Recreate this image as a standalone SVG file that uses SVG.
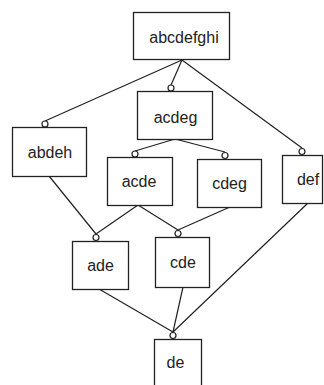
<svg xmlns="http://www.w3.org/2000/svg" width="324" height="385" viewBox="0 0 324 385">
<style>
.box{fill:#fff;stroke:#222;stroke-width:1.3}
.lbl{font-family:"Liberation Sans",Arial,sans-serif;font-size:16px;fill:#222;text-anchor:middle}
.edge{stroke:#222;stroke-width:1.2;fill:none}
.port{fill:#fff;stroke:#222;stroke-width:1.2}
</style>
<rect width="324" height="385" fill="#fff"/>
<g id="connectors">
<line class="edge" x1="182" y1="60" x2="45" y2="121"/>
<line class="edge" x1="182" y1="60" x2="171" y2="85"/>
<line class="edge" x1="182" y1="60" x2="302" y2="148"/>
<line class="edge" x1="175" y1="139" x2="135" y2="151"/>
<line class="edge" x1="175" y1="139" x2="225" y2="152"/>
<line class="edge" x1="49" y1="176" x2="96" y2="234"/>
<line class="edge" x1="138" y1="205" x2="96" y2="234"/>
<line class="edge" x1="138" y1="205" x2="178" y2="230"/>
<line class="edge" x1="230" y1="207" x2="178" y2="230"/>
<line class="edge" x1="99" y1="289" x2="173" y2="332"/>
<line class="edge" x1="183" y1="287" x2="173" y2="332"/>
<line class="edge" x1="308" y1="203" x2="173" y2="332"/>
<circle class="port" cx="171" cy="88" r="3"/>
<circle class="port" cx="45" cy="124" r="3"/>
<circle class="port" cx="302" cy="151.5" r="3"/>
<circle class="port" cx="135" cy="154" r="3"/>
<circle class="port" cx="225" cy="155.5" r="3"/>
<circle class="port" cx="96" cy="237.5" r="3"/>
<circle class="port" cx="178" cy="233.5" r="3"/>
<circle class="port" cx="173" cy="335.5" r="3"/>
</g>
<g id="abcdefghi"><rect class="box" x="133.5" y="12.5" width="96" height="47"/><text class="lbl" x="184" y="43">abcdefghi</text></g>
<g id="acdeg"><rect class="box" x="137.5" y="91.5" width="75" height="48"/><text class="lbl" x="175.5" y="123">acdeg</text></g>
<g id="abdeh"><rect class="box" x="12.5" y="127.5" width="74" height="49"/><text class="lbl" x="50" y="158">abdeh</text></g>
<g id="acde"><rect class="box" x="107.5" y="157.5" width="65" height="48"/><text class="lbl" x="139" y="187">acde</text></g>
<g id="cdeg"><rect class="box" x="197.5" y="159.5" width="64" height="48"/><text class="lbl" x="229.5" y="189">cdeg</text></g>
<g id="def"><rect class="box" x="282.5" y="155.5" width="40" height="48"/><text class="lbl" x="308" y="185">def</text></g>
<g id="ade"><rect class="box" x="72.5" y="241.5" width="56" height="48"/><text class="lbl" x="100.5" y="271">ade</text></g>
<g id="cde"><rect class="box" x="155.5" y="237.5" width="54" height="50"/><text class="lbl" x="183" y="268">cde</text></g>
<g id="de"><rect class="box" x="154.5" y="339.5" width="47" height="52"/><text class="lbl" x="175.5" y="368">de</text></g>
</svg>
